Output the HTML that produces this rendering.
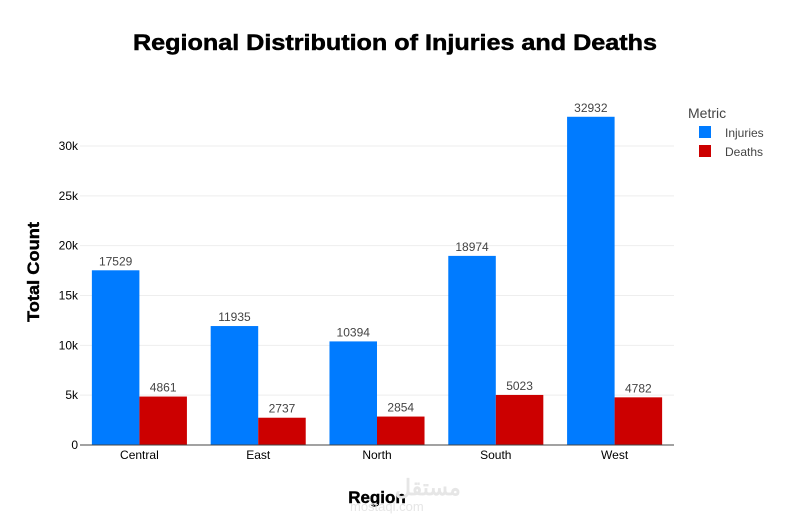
<!DOCTYPE html>
<html><head><meta charset="utf-8">
<style>
body{margin:0;background:#fff;font-family:"Liberation Sans",Arial,sans-serif;}
svg{display:block}
</style></head>
<body>
<svg id="chart" width="790" height="525" xmlns="http://www.w3.org/2000/svg">
<text x="395" y="50" text-anchor="middle" font-size="22" font-weight="bold" fill="#000" stroke="#000" stroke-width="0.5" textLength="524" lengthAdjust="spacingAndGlyphs">Regional Distribution of Injuries and Deaths</text>
<g id="grid"></g>
<g id="bars"></g>
<g id="axes"></g>
<text transform="translate(39,272) rotate(-90)" text-anchor="middle" font-size="17" font-weight="bold" fill="#000" stroke="#000" stroke-width="0.4" textLength="100" lengthAdjust="spacingAndGlyphs">Total Count</text>
<text x="377" y="503" text-anchor="middle" font-size="17" font-weight="bold" fill="#000" stroke="#000" stroke-width="0.4">Region</text>
<g>
<text x="688" y="118" font-size="14" fill="#444">Metric</text>
<g><rect x="699" y="126" width="12" height="12" fill="#007bff"/><text x="725" y="137" font-size="12" fill="#444">Injuries</text></g>
<g><rect x="699" y="145" width="12" height="12" fill="#cc0000"/><text x="725" y="156" font-size="12" fill="#444">Deaths</text></g>
</g>
<text x="395" y="495" font-size="22" font-weight="bold" fill="#e6e6e6">مستقل</text>
<text x="350" y="511" font-size="13" fill="#e6e6e6">mostaql.com</text>
</svg>
<script>
const categories=["Central","East","North","South","West"];
const injuries=[17529,11935,10394,18974,32932];
const deaths=[4861,2737,2854,5023,4782];
const yTicks=[0,5000,10000,15000,20000,25000,30000];
const yTickLabels=["0","5k","10k","15k","20k","25k","30k"];
const NS="http://www.w3.org/2000/svg";
const L=80,R=674,Y0=445,Y30=146;
function y(v){return Y0-(v/30000)*(Y0-Y30);}
const band=(R-L)/categories.length;
function xc(i){return L+band*(i+0.5);}
function mk(tag,attrs,parent,txt){const e=document.createElementNS(NS,tag);for(const k in attrs)e.setAttribute(k,attrs[k]);if(txt!==undefined)e.textContent=txt;document.getElementById(parent).appendChild(e);return e;}
yTicks.forEach((t,i)=>{
  if(t>0){const g=mk('line',{x1:L,x2:R,y1:y(t),y2:y(t),stroke:'#eee','stroke-width':1},'grid');
  
  }
  const tl=mk('text',{x:L-2,y:y(t)+4,'text-anchor':'end','font-size':12,fill:'#000'},'axes',yTickLabels[i]);
  
  
});
const ax=mk('line',{x1:L,x2:R,y1:Y0,y2:Y0,stroke:'#444','stroke-width':1},'axes');


const bw=band*0.8/2;
function bar(i,v,off,color,name){
  const bx=off===0?xc(i)-bw:xc(i);
  const r=mk('rect',{x:bx,y:y(v),width:bw,height:Y0-y(v),fill:color},'bars');
  
  
  const t=mk('text',{x:bx+bw/2,y:y(v)-5,'text-anchor':'middle','font-size':12,fill:'#444'},'bars',String(v));
  
  
}
categories.forEach((c,i)=>{
  bar(i,injuries[i],0,'#007bff','bar-injuries-'+c.toLowerCase());
  bar(i,deaths[i],1,'#cc0000','bar-deaths-'+c.toLowerCase());
  const t=mk('text',{x:xc(i),y:Y0+14,'text-anchor':'middle','font-size':12,fill:'#000'},'axes',c);
  
  
});
</script>
</body></html>
